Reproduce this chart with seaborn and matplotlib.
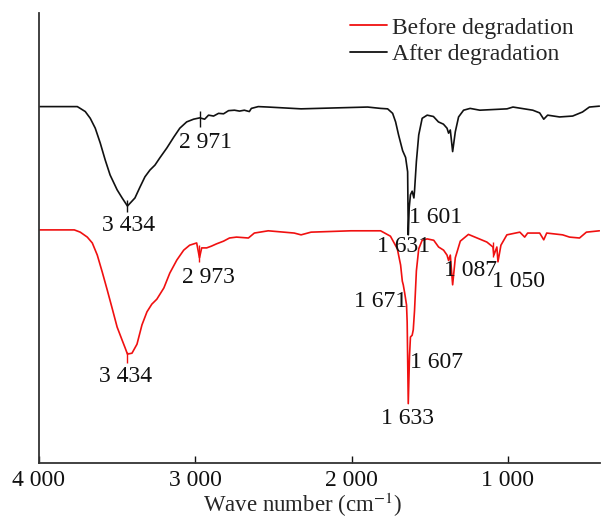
import numpy as np
import pandas as pd
import matplotlib
matplotlib.use("Agg")
import matplotlib.pyplot as plt
import seaborn as sns

# ---------------- data ----------------
after_wn = [4000, 3755, 3736, 3704, 3672, 3640, 3608, 3576, 3545, 3500, 3468, 3434, 3386,
            3354, 3322, 3290, 3258, 3227, 3182, 3138, 3099, 3055, 3011, 2971, 2940, 2915,
            2883, 2851, 2819, 2787, 2749, 2717, 2686, 2654, 2641, 2597, 2533, 2323, 2113,
            1897, 1814, 1769, 1737, 1718, 1699, 1673, 1654, 1641, 1637, 1631, 1623, 1612,
            1601, 1597, 1585, 1570, 1548, 1516, 1476, 1444, 1412, 1389, 1379, 1368, 1353,
            1336, 1315, 1283, 1241, 1179, 1005, 967, 840, 796, 770, 745, 669, 585, 522, 478, 414]
after_t = [79.2, 79.2, 78.8, 78.1, 76.6, 74.4, 71.1, 67.3, 64.0, 60.7, 58.9, 57.1, 58.9,
           61.3, 63.6, 65.1, 66.2, 67.8, 70.0, 72.4, 74.4, 75.8, 76.4, 76.7, 76.4, 77.3,
           77.1, 77.7, 77.6, 78.3, 78.4, 78.2, 78.4, 78.1, 78.8, 79.2, 79.1, 78.7, 78.9,
           79.1, 78.8, 78.7, 77.7, 75.8, 72.9, 69.4, 67.9, 64.7, 50.7, 56.7, 59.6, 60.4,
           58.9, 60.4, 67.0, 72.9, 76.6, 77.3, 77.0, 75.8, 75.3, 74.4, 73.3, 74.0, 69.2,
           73.6, 76.9, 78.4, 78.8, 78.4, 78.7, 79.1, 78.4, 77.8, 76.4, 77.3, 76.9, 77.1, 78.0, 79.1, 79.3]

before_wn = [4000, 3774, 3736, 3691, 3659, 3627, 3595, 3563, 3532, 3500, 3468, 3449, 3434,
             3405, 3373, 3341, 3309, 3278, 3246, 3201, 3163, 3118, 3074, 3036, 2991, 2973,
             2959, 2927, 2896, 2864, 2819, 2781, 2736, 2660, 2622, 2533, 2367, 2323, 2259,
             2005, 1833, 1814, 1751, 1707, 1686, 1675, 1669, 1660, 1648, 1644, 1637, 1629,
             1623, 1612, 1605, 1597, 1585, 1570, 1548, 1516, 1474, 1443, 1411, 1389, 1379,
             1368, 1353, 1336, 1304, 1252, 1134, 1095, 1089, 1070, 1063, 1044, 1006, 923,
             892, 873, 796, 770, 751, 649, 605, 541, 497, 414]
before_t = [51.8, 51.8, 51.3, 50.2, 48.9, 46.2, 42.4, 38.4, 34.4, 30.2, 27.3, 25.6, 24.2,
            24.4, 26.4, 30.7, 33.6, 35.3, 36.4, 38.9, 42.2, 45.1, 47.3, 48.4, 48.9, 45.6,
            47.8, 47.8, 48.2, 48.7, 49.3, 50.0, 50.2, 50.0, 51.1, 51.6, 51.1, 50.7, 51.3,
            51.6, 51.6, 51.6, 50.4, 47.6, 44.0, 40.4, 39.6, 37.8, 35.1, 31.3, 13.2, 23.8,
            28.0, 28.4, 29.6, 33.8, 42.7, 47.6, 49.5, 49.8, 49.5, 48.0, 47.3, 46.2, 45.0,
            46.2, 39.6, 45.6, 49.3, 50.8, 49.1, 48.0, 46.2, 48.0, 44.7, 48.4, 50.7, 51.3,
            50.2, 51.1, 51.1, 49.6, 51.1, 50.7, 50.2, 50.0, 51.3, 51.6]

series_names = ["Before degradation", "After degradation"]
series_colors = ["#f01010", "#111111"]

tick_values = [4000, 3000, 2000, 1000]
tick_labels = ["4 000", "3 000", "2 000", "1 000"]

# peak annotations: (label text, x, y) for each series
after_peaks = [("3 434", 3424, 52.7), ("2 971", 2934, 71.3), ("1 601", 1464, 54.6), ("1 631", 1668, 48.2)]
before_peaks = [("3 434", 3443, 19.3), ("2 973", 2915, 41.3), ("1 671", 1814, 35.8), ("1 607", 1457, 22.4),
                ("1 633", 1642, 10.0), ("1 087", 1241, 42.7), ("1 050", 929, 40.4)]
# short vertical peak markers: (x, y_low, y_high)
after_marks = [(3434, 55.8, 58.4), (2971, 74.7, 78.2)]
before_marks = [(3434, 22.2, 24.7), (2973, 44.7, 48.4), (1096, 45.8, 49.1)]

# ---------------- build ----------------
df = pd.concat([
    pd.DataFrame({"wn": before_wn, "T": before_t, "series": series_names[0]}),
    pd.DataFrame({"wn": after_wn, "T": after_t, "series": series_names[1]}),
], ignore_index=True)

sns.set_style("ticks")
plt.rcParams["font.family"] = ["Liberation Serif", "DejaVu Serif"]
plt.rcParams["mathtext.fontset"] = "stix"

FS = 17

fig = plt.figure(figsize=(6.01, 5.19), dpi=100)
ax = fig.add_axes([39 / 601, (519 - 463) / 519, (600 - 39) / 601, (463 - 13) / 519])

sns.lineplot(data=df, x="wn", y="T", hue="series", hue_order=series_names,
             palette=dict(zip(series_names, series_colors)), sort=False,
             estimator=None, linewidth=1.2, ax=ax)

for (x, lo, hi) in after_marks:
    ax.vlines(x, lo, hi, color=series_colors[1], lw=1.0)
for (x, lo, hi) in before_marks:
    ax.vlines(x, lo, hi, color=series_colors[0], lw=1.0)

for (t, x, y) in after_peaks:
    ax.text(x, y, t, ha="center", va="center", fontsize=FS, color="#111111")
for (t, x, y) in before_peaks:
    ax.text(x, y, t, ha="center", va="center", fontsize=FS, color="#111111")

ax.set_xlim(4000, 410)
ax.set_ylim(0, 100)
ax.set_xticks(tick_values)
ax.set_xticklabels(tick_labels)
ax.set_yticks([])
ax.set_ylabel("")
ax.set_xlabel(r"Wave number (cm$^{-1}$)", fontsize=16.5)
ax.xaxis.label.set_va("baseline")
ax.xaxis.set_label_coords(0.4706, (463 - 512) / 450)
ax.tick_params(axis="x", direction="in", length=5, width=1.0, labelsize=FS, pad=5, colors="#111111")

for s in ["top", "right"]:
    ax.spines[s].set_visible(False)
for s in ["left", "bottom"]:
    ax.spines[s].set_linewidth(1.3)
    ax.spines[s].set_color("#333333")

leg = ax.legend(loc="upper left", bbox_to_anchor=(0.537, 1.012), frameon=False,
                fontsize=FS, handlelength=1.57, handletextpad=0.22, labelspacing=0.22,
                borderaxespad=0)
for line in leg.get_lines():
    line.set_linewidth(1.3)

fig.savefig("out.png", dpi=100)
